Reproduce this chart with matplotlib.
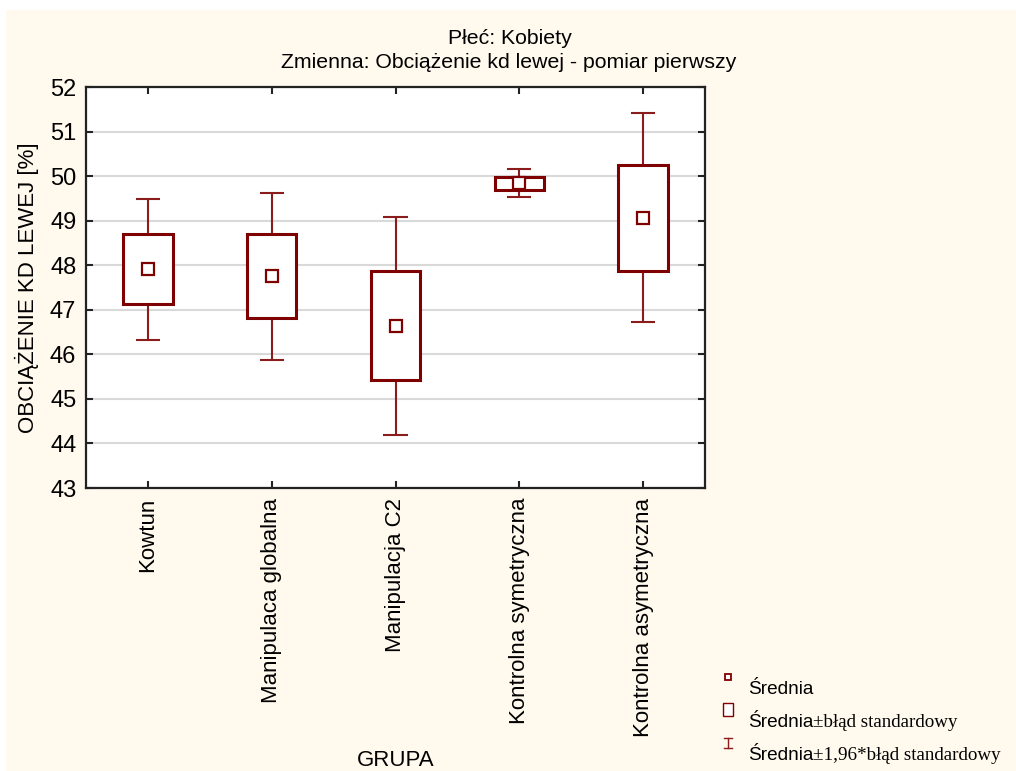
import matplotlib
matplotlib.use("Agg")
import matplotlib.pyplot as plt
from matplotlib.lines import Line2D
from matplotlib.patches import Rectangle

# group means with +-SE box and +-1.96*SE whiskers
groups = ["Kowtun", "Manipulaca globalna", "Manipulacja C2",
          "Kontrolna symetryczna", "Kontrolna asymetryczna"]
mean = [47.92, 47.75, 46.64, 49.84, 49.07]
se_lo = [47.13, 46.81, 45.42, 49.69, 47.88]
se_hi = [48.70, 48.69, 47.86, 49.99, 50.26]
ci_lo = [46.33, 45.87, 44.19, 49.52, 46.72]
ci_hi = [49.49, 49.63, 49.08, 50.15, 51.42]
yticks = [43, 44, 45, 46, 47, 48, 49, 50, 51, 52]

RED = "#7f0000"
WHISK = "#8b1c1c"
CREAM = "#fff9ee"
W, H = 1016, 771

plt.rcParams["font.family"] = ["Liberation Sans", "DejaVu Sans"]

fig = plt.figure(figsize=(W / 100, H / 100), dpi=100, facecolor="white")
fig.add_artist(Rectangle((6 / W, 0), 1 - 6 / W, 1 - 10 / H,
                         transform=fig.transFigure, facecolor=CREAM,
                         edgecolor="none", zorder=-10))

ax = fig.add_axes([86 / W, 1 - 488 / H, (705 - 86) / W, (488 - 87) / H])
ax.set_facecolor("white")
x = list(range(len(groups)))

ax.vlines(x, se_hi, ci_hi, color=WHISK, lw=1.5, zorder=2)
ax.vlines(x, ci_lo, se_lo, color=WHISK, lw=1.5, zorder=2)
ax.hlines(ci_hi, [i - 0.097 for i in x], [i + 0.097 for i in x],
          color=WHISK, lw=1.5, zorder=2)
ax.hlines(ci_lo, [i - 0.097 for i in x], [i + 0.097 for i in x],
          color=WHISK, lw=1.5, zorder=2)
ax.bar(x, [h - l for h, l in zip(se_hi, se_lo)], bottom=se_lo, width=0.4,
       facecolor="white", edgecolor=RED, linewidth=2.2, zorder=3)
ax.plot(x, mean, ls="none", marker="s", ms=8, mfc="white", mec=RED,
        mew=1.6, zorder=4)

ax.set_xlim(-0.5, len(groups) - 0.5)
ax.set_ylim(43, 52)
ax.set_yticks(yticks)
ax.set_xticks(x)
ax.set_xticklabels(groups, rotation=90, fontsize=16)
ax.tick_params(axis="y", labelsize=17, pad=7)
ax.tick_params(axis="x", pad=7)
ax.tick_params(direction="in", length=5, width=1.5, top=True, right=True,
               color="#222222")
ax.yaxis.grid(True, color="#d9d9d9", lw=1.5)
ax.set_axisbelow(True)
for s in ax.spines.values():
    s.set_linewidth(1.6)
    s.set_color("#222222")

ax.set_ylabel("OBCIĄŻENIE KD LEWEJ [%]", fontsize=16, labelpad=8)
fig.text(396 / W, 1 - 760 / H, "GRUPA", ha="center", va="center", fontsize=16)
fig.text(510 / W, 1 - 38 / H, "Płeć: Kobiety", ha="center", va="center",
         fontsize=15.3)
fig.text(509 / W, 1 - 62 / H,
         "Zmienna: Obciążenie kd lewej - pomiar pierwszy",
         ha="center", va="center", fontsize=15.3)

# legend, drawn by hand: sans "Średnia" followed by a serif remainder
fig.add_artist(Line2D([728 / W], [1 - 677 / H], marker="s", ms=5, mfc="white",
                      mec=RED, mew=1.3, transform=fig.transFigure))
fig.add_artist(Rectangle((723 / W, 1 - 716 / H), 10 / W, 13 / H,
                         transform=fig.transFigure, facecolor="white",
                         edgecolor=RED, lw=1.0))
fig.add_artist(Line2D([728 / W, 728 / W], [1 - 748 / H, 1 - 738 / H],
                      color=WHISK, lw=1.0, transform=fig.transFigure))
for y0 in (738, 748):
    fig.add_artist(Line2D([724 / W, 732 / W], [1 - y0 / H, 1 - y0 / H],
                          color=WHISK, lw=1.0, transform=fig.transFigure))

rows = [(694, ""), (727, "±błąd standardowy"),
        (760, "±1,96*błąd standardowy")]
for y0, rest in rows:
    t = fig.text(748 / W, 1 - y0 / H, "Średnia", ha="left", va="baseline",
                 fontsize=13.7)
    if rest:
        ax.annotate(rest, xy=(1, 0), xycoords=t, ha="left", va="bottom",
                    fontsize=13.7, family="Liberation Serif",
                    annotation_clip=False)

fig.savefig("out.png", dpi=100, facecolor=fig.get_facecolor())
